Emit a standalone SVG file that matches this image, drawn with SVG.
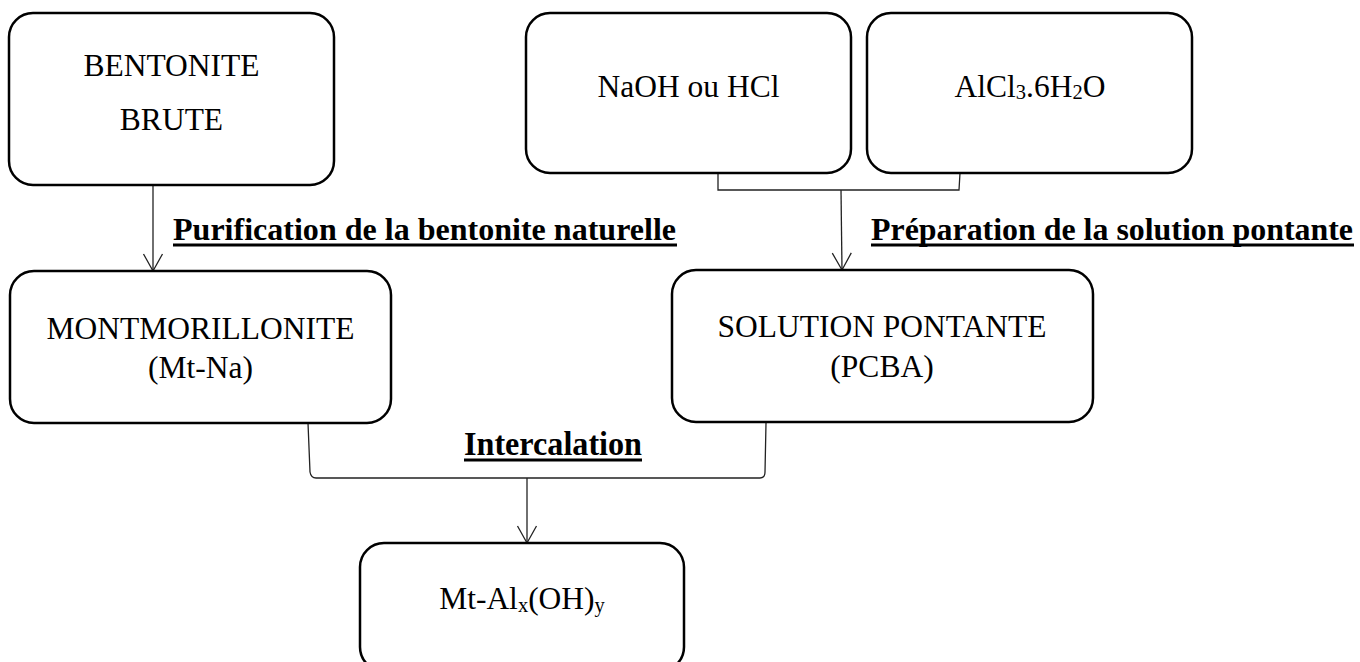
<svg xmlns="http://www.w3.org/2000/svg" width="1360" height="662" viewBox="0 0 1360 662">
<style>
.box{fill:#fff;stroke:#000;stroke-width:2.5}
.t{font-family:"Liberation Serif","Times New Roman",serif;font-size:31.5px;fill:#000;text-anchor:middle}
.b{font-family:"Liberation Serif","Times New Roman",serif;font-size:32px;font-weight:bold;fill:#000}
.c{fill:none;stroke:#222;stroke-width:1.3}
.ul{stroke:#000;stroke-width:3}
</style>
<defs>
<marker id="arr" markerUnits="userSpaceOnUse" markerWidth="22" markerHeight="24" viewBox="-19 -12 22 24" refX="0" refY="0" orient="auto" overflow="visible">
<path d="M-17,-9.5 L0,0 L-17,9.5" fill="none" stroke="#222" stroke-width="1.3"/>
</marker>
</defs>
<g id="connectors">
<line class="c" x1="153" y1="185" x2="153" y2="271" marker-end="url(#arr)"/>
<path class="c" d="M718,173 L718,190 L959,190 L960,173"/>
<line class="c" x1="841" y1="190" x2="842" y2="270" marker-end="url(#arr)"/>
<path class="c" d="M308,423 L310,472 Q311,478 316,478 L760,478 Q765,478 765,472 L766,423"/>
<line class="c" x1="527" y1="478" x2="527" y2="543" marker-end="url(#arr)"/>
</g>
<g id="labels">
<text class="b" x="173" y="240" textLength="503" lengthAdjust="spacingAndGlyphs">Purification de la bentonite naturelle</text>
<line class="ul" x1="173" y1="245" x2="677" y2="245"/>
<text class="b" x="871" y="240" textLength="482" lengthAdjust="spacingAndGlyphs">Préparation de la solution pontante</text>
<line class="ul" x1="871" y1="245" x2="1354" y2="245"/>
<text class="b" x="464" y="455" style="font-size:33px" textLength="178" lengthAdjust="spacingAndGlyphs">Intercalation</text>
<line class="ul" x1="464" y1="460" x2="642" y2="460"/>
</g>
<g id="bentonite">
<rect class="box" x="9" y="13" width="325" height="172" rx="24"/>
<text class="t" x="171.5" y="76">BENTONITE</text>
<text class="t" x="171.5" y="130">BRUTE</text>
</g>
<g id="naoh">
<rect class="box" x="526" y="13" width="325" height="160" rx="24"/>
<text class="t" x="688.5" y="97">NaOH ou HCl</text>
</g>
<g id="alcl3">
<rect class="box" x="867" y="13" width="325" height="160" rx="24"/>
<text class="t" x="1030" y="97">AlCl<tspan font-size="20.5" dy="2">3</tspan><tspan dy="-2">.6H</tspan><tspan font-size="20.5" dy="2">2</tspan><tspan dy="-2">O</tspan></text>
</g>
<g id="montmorillonite">
<rect class="box" x="10" y="271" width="381" height="152" rx="24"/>
<text class="t" x="200.5" y="339">MONTMORILLONITE</text>
<text class="t" x="200.5" y="378">(Mt-Na)</text>
</g>
<g id="solution">
<rect class="box" x="672" y="270" width="421" height="152" rx="24"/>
<text class="t" x="882" y="337">SOLUTION PONTANTE</text>
<text class="t" x="882" y="377">(PCBA)</text>
</g>
<g id="product">
<rect class="box" x="360" y="543" width="324" height="128" rx="24"/>
<text class="t" x="522" y="609">Mt-Al<tspan font-size="20.5" dy="3">x</tspan><tspan dy="-3">(OH)</tspan><tspan font-size="20.5" dy="3">y</tspan></text>
</g>
</svg>
